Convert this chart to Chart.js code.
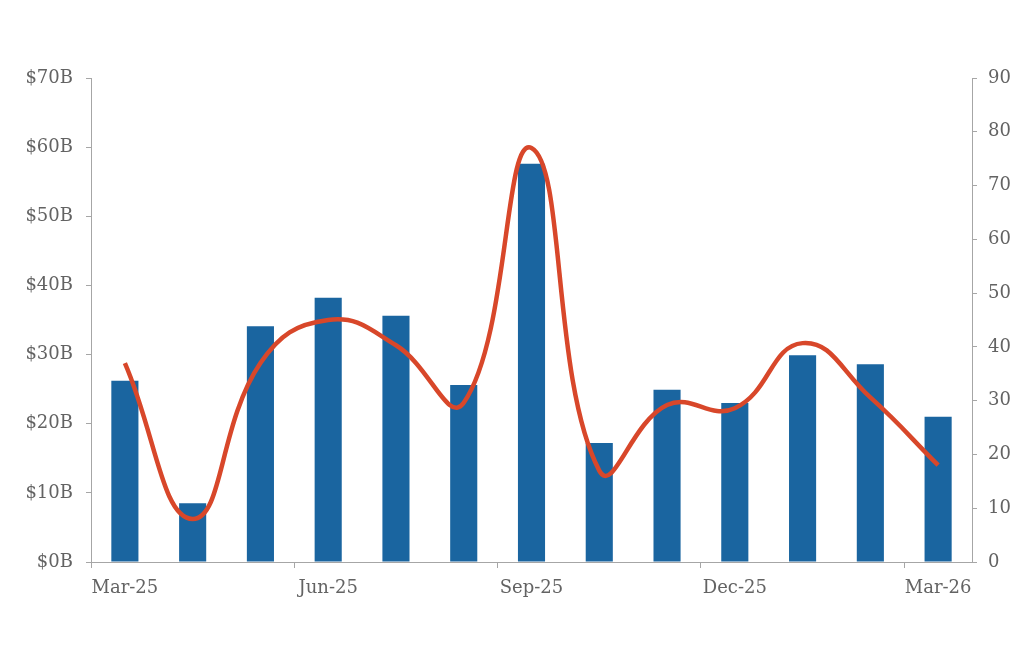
<!DOCTYPE html>
<html>
<head>
<meta charset="utf-8">
<script src="https://cdn.jsdelivr.net/npm/chart.js@4"></script>
<style>
  html, body { margin: 0; padding: 0; background: #fff; }
  #wrap { width: 1024px; height: 672px; }
</style>
</head>
<body>
<div id="wrap"><canvas id="combo"></canvas></div>
<script>
const months = ['Mar-25', 'Apr-25', 'May-25', 'Jun-25', 'Jul-25', 'Aug-25', 'Sep-25',
                'Oct-25', 'Nov-25', 'Dec-25', 'Jan-26', 'Feb-26', 'Mar-26'];
const barValues = [26.2, 8.5, 34.1, 38.2, 35.6, 25.6, 57.6, 17.2, 24.9, 23.0, 29.9, 28.6, 21.0];
const lineValues = [37, 8, 37, 45, 40.3, 29.6, 77, 17, 29.2, 28.6, 40.7, 30.6, 18];
const leftTicks = [0, 10, 20, 30, 40, 50, 60, 70];
const rightTicks = [0, 10, 20, 30, 40, 50, 60, 70, 80, 90];

const axisColor = '#a6a6a6';
const textColor = '#636363';
const font = { family: "'DejaVu Serif', 'Liberation Serif', serif", size: 18 };

const ctx = document.getElementById('combo').getContext('2d');
new Chart(ctx, {
    data: {
        labels: months,
        datasets: [{
            type: 'line',
            data: lineValues,
            yAxisID: 'yR',
            borderColor: '#d8472a',
            borderWidth: 4.5,
            tension: 0.45,
            pointRadius: 0,
            fill: false,
            order: 0
        }, {
            type: 'bar',
            data: barValues,
            yAxisID: 'yL',
            backgroundColor: '#1a65a0',
            categoryPercentage: 1,
            barPercentage: 0.4,
            order: 1
        }]
    },
    options: {
        responsive: true,
        maintainAspectRatio: false,
        animation: false,
        layout: { padding: { top: 78, left: 0, right: 0, bottom: 0 } },
        plugins: { legend: { display: false }, tooltip: { enabled: false } },
        scales: {
            x: {
                offset: true,
                grid: {
                    offset: true,
                    drawOnChartArea: false,
                    tickLength: 6,
                    color: (c) => (c.index % 3 === 0 ? axisColor : 'rgba(0,0,0,0)')
                },
                border: { color: axisColor, width: 1 },
                ticks: {
                    autoSkip: false,
                    maxRotation: 0,
                    padding: 10,
                    color: textColor,
                    font: font,
                    callback: function(value, index) {
                        return index % 3 === 0 ? months[index] : '';
                    }
                },
                afterFit: (s) => { s.height = 110; }
            },
            yL: {
                position: 'left',
                min: 0,
                max: 70,
                afterBuildTicks: (s) => { s.ticks = leftTicks.map(v => ({ value: v })); },
                grid: { drawOnChartArea: false, tickLength: 5, color: axisColor },
                border: { color: axisColor, width: 1 },
                ticks: {
                    padding: 13,
                    color: textColor,
                    font: font,
                    callback: (v) => '$' + v + 'B'
                },
                afterFit: (s) => { s.width = 91; }
            },
            yR: {
                position: 'right',
                min: 0,
                max: 90,
                afterBuildTicks: (s) => { s.ticks = rightTicks.map(v => ({ value: v })); },
                grid: { drawOnChartArea: false, tickLength: 5, color: axisColor },
                border: { color: axisColor, width: 1 },
                ticks: {
                    padding: 11,
                    color: textColor,
                    font: font
                },
                afterFit: (s) => { s.width = 52; }
            }
        }
    }
});
</script>
</body>
</html>
